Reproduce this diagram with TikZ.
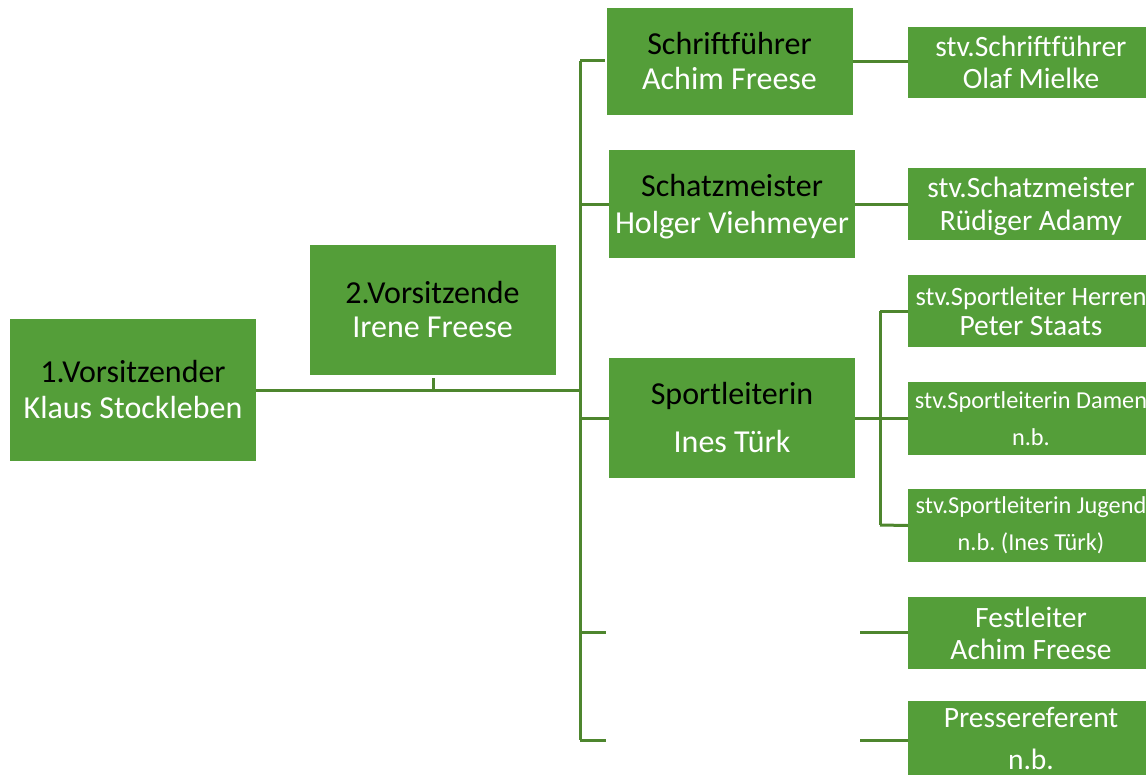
\documentclass[tikz,border=0pt]{standalone}
\usepackage{fontspec}
\setmainfont{Carlito}
\frenchspacing
\definecolor{boxgreen}{RGB}{84,158,57}
\definecolor{linegreen}{RGB}{78,134,46}
\tikzset{
  box/.style={fill=boxgreen, draw=none, inner sep=0pt, align=center, anchor=center, minimum width=246pt},
  conn/.style={draw=linegreen, line width=3pt},
}
\newcommand{\fs}[2]{\fontsize{#1}{#2}\selectfont}
\newcommand{\wt}[1]{\textcolor{white}{#1}}
\begin{document}
\begin{tikzpicture}[x=1pt,y=-1pt]
\useasboundingbox (0,0) rectangle (1146,776);
\clip (0,0) rectangle (1146,776);
% boxes
\node[box, minimum height=142pt, font=\fs{32}{36}] (v1) at (133,390) {1.Vorsitzender\\\wt{Klaus Stockleben}};
\node[box, minimum height=130pt, font=\fs{32}{34}] (v2) at (432.5,310) {2.Vorsitzende\\\wt{Irene Freese}};
\node[box, minimum height=107pt, font=\fs{32}{35}] (sf) at (729.5,61.5) {Schriftführer\\\wt{Achim Freese}};
\node[box, minimum height=108pt, font=\fs{32}{37}, text depth=0pt] (sm) at (732,204) {Schatzmeister\\\wt{Holger Viehmeyer}};
\node[box, minimum height=120pt, font=\fs{32}{48}] (sl) at (732,418) {Sportleiterin\\\wt{Ines Türk}};
\node[box, minimum height=71pt, font=\fs{29.5}{32}] (ssf) at (1031,62.5) {\wt{stv.Schriftführer}\\\wt{Olaf Mielke}};
\node[box, minimum height=72pt, font=\fs{29.5}{33}, text depth=0pt] (ssm) at (1031,204) {\wt{stv.Schatzmeister}\\\wt{Rüdiger Adamy}};
\node[box, minimum height=72pt, font=\fs{26.5}{30}] (sh) at (1031,311) {\wt{stv.Sportleiter Herren}\\\wt{\fs{29.5}{30}Peter Staats}};
\node[box, minimum height=73pt, font=\fs{24.3}{37}] (sd) at (1031,418.5) {\wt{stv.Sportleiterin Damen}\\\wt{n.b.}};
\node[box, minimum height=73pt, font=\fs{24.3}{37}] (sj) at (1031,525.5) {\wt{stv.Sportleiterin Jugend}\\\wt{n.b. (Ines Türk)}};
\node[box, minimum height=72pt, font=\fs{29.5}{32}] (fl) at (1031,633) {\wt{Festleiter}\\\wt{Achim Freese}};
\node[box, minimum height=74pt, font=\fs{29.5}{42}] (pr) at (1031,738) {\wt{Pressereferent}\\\wt{n.b.}};
% coordinates
\coordinate (t1) at (580,390);
\coordinate (top) at (580,61);
\coordinate (bot) at (580,740);
\coordinate (e4) at (606,632);
\coordinate (e5) at (606,740);
\coordinate (f4) at (860,632);
\coordinate (f5) at (860,740);
\coordinate (tk) at (433,378);
% connectors
\draw[conn] (v1.east) -- (t1);
\draw[conn] (tk) -- (tk |- t1);
\draw[conn] (top) -- (bot);
\draw[conn] (top) -- (605,61);
\draw[conn] (580,204) -- (sm.west);
\draw[conn] (580,418) -- (sl.west);
\draw[conn] (580,632) -- (e4);
\draw[conn] (bot) -- (e5);
\draw[conn] (sf.east) -- (sf.east -| ssf.west);
\draw[conn] (sm.east) -- (sm.east -| ssm.west);
\draw[conn] (sl.east) -- (sl.east -| sd.west);
\draw[conn] (880,311) -- (880,525);
\draw[conn] (880,311) -- (sh.west);
\draw[conn] (880,525) -- (sj.west);
\draw[conn] (f4) -- (f4 -| fl.west);
\draw[conn] (f5) -- (f5 -| pr.west);
\end{tikzpicture}
\end{document}
